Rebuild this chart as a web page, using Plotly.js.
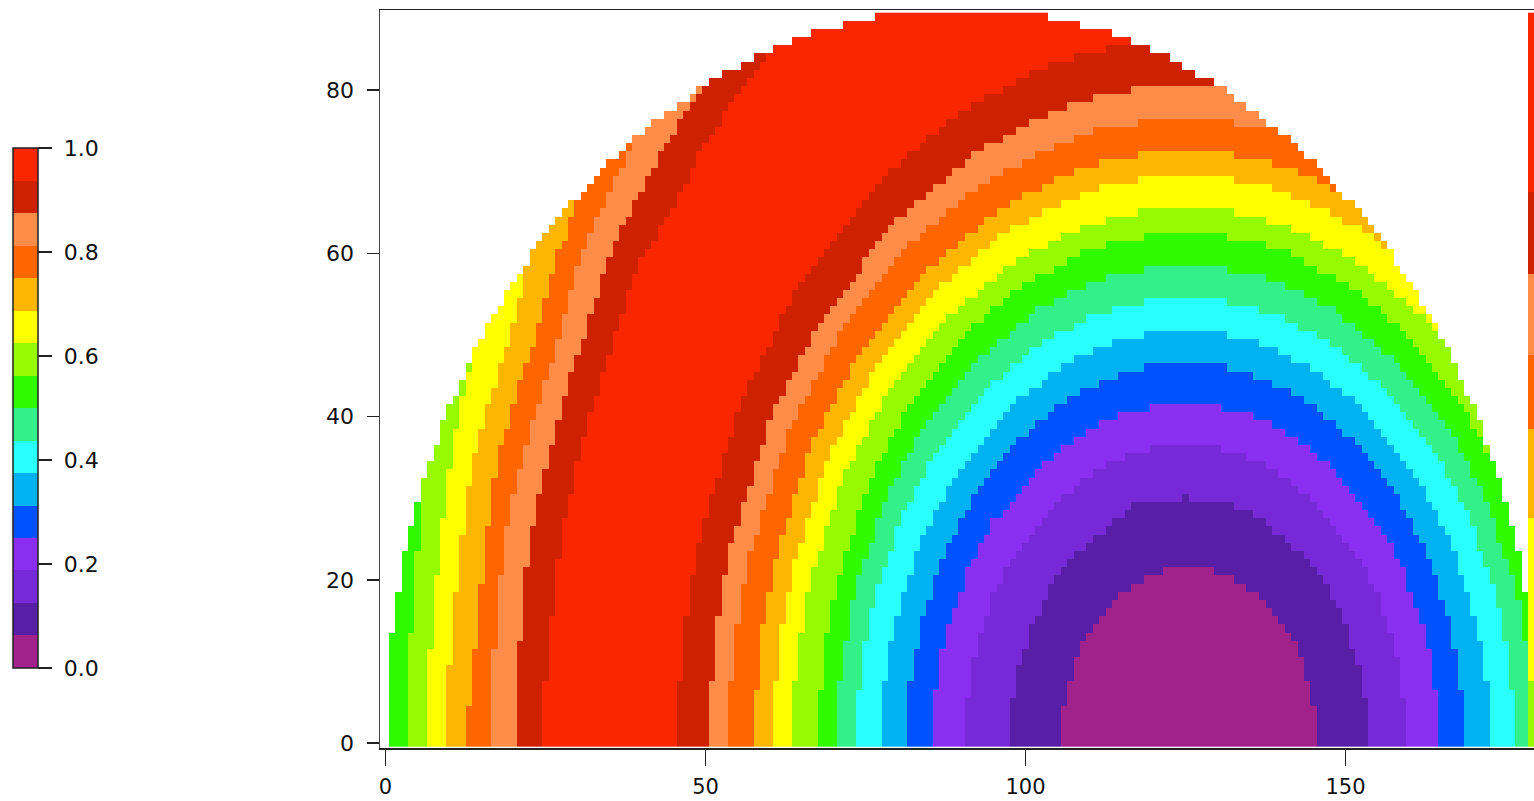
<!DOCTYPE html>
<html>
<head>
<meta charset="utf-8">
<script src="https://cdn.plot.ly/plotly-3.0.1.min.js"></script>
<style>
html, body { margin:0; padding:0; background:#ffffff; overflow:hidden; }
#chart { width:1534px; height:801px; }
</style>
</head>
<body>
<div id="chart"></div>
<script>
// ---------------- data ----------------
// 16 colour bins, value 0..1 in steps of 1/16
const bandColors = ['#a0228a','#581fa6','#7729d8','#8a2ff0','#0052ff','#00b2f2','#2affff','#33f088',
                    '#30fa00','#96fa00','#ffff00','#ffb600','#ff6600','#ff8c48','#cd2100','#fa2600'];
const colorbarTicks = [0, 0.2, 0.4, 0.6, 0.8, 1.0];
const colorbarTickText = ['0.0', '0.2', '0.4', '0.6', '0.8', '1.0'];
const xTicks = [0, 50, 100, 150];
const yTicks = [0, 20, 40, 60, 80];
const xCount = 180;   // columns 0..179
const yCount = 90;    // rows 0..89

// Outline of the filled (half-disc) area: [x, y]
const domainEdge = [[0.5,-1],[0.5,13.5],[1.5,14],[1.5,18.5],[2.5,19],[2.5,23.5],[3.5,24],[3.5,26.5],[4.5,27],[4.8,29],
  [7.1,35],[9.4,40],[12.1,45],[15.2,50],[18.8,55],[22.9,60],[27.8,65],[33.4,70],[40.3,75],[48.8,80],[53,82],[57.7,84],
  [63.5,86],[66.9,87],[71.1,88],[76.5,89],[76.5,89.6],[103.5,89.6],[103.5,89],[108.9,88],[113.1,87],[116.5,86],
  [122.3,84],[127,82],[131.2,80],[139.7,75],[146.6,70],[152.2,65],[157.1,60],[161.2,55],[164.8,50],[167.9,45],
  [170.6,40],[172.9,35],[175.2,29],[175.5,27],[176.5,26.5],[176.5,24],[177.5,23.5],[177.5,19],[178.5,18.5],
  [178.5,14],[179.5,13.5],[179.5,-1]];

// Boundaries of the nested bands around the minimum (x≈125, y=0); ringK separates bin K-1 (inside) from bin K
const ring1 = [[105.5,0],[105.7,3.2],[106.4,6.5],[108.2,10.8],[110.3,14],[113.5,17.2],[116.8,19.4],[119.9,20.6],[121.5,21.1],[123.5,21.4],[125.5,21.5],[127.5,21.4],[129.5,21.1],[131.1,20.6],[134.2,19.4],[137.5,17.2],[140.7,14],[142.8,10.8],[144.6,6.5],[145.3,3.2],[145.5,0]];
const ring2 = [[97.5,0],[97.8,4.5],[98.8,8.9],[101.3,14.9],[104.2,19.4],[108.7,23.8],[113.3,26.8],[115.5,28],[116.5,29],[116.9,29.5],[124.6,29.5],[125,30.5],[125.4,29.5],[132.1,29.5],[132.5,29],[135.5,28],[137.7,26.8],[142.3,23.8],[146.8,19.4],[149.8,14.9],[152.2,8.9],[153.2,4.5],[153.5,0]];
const ring3 = [[90.5,0],[90.9,5.5],[92.1,11],[95.1,18.3],[98.8,23.7],[104.3,29.2],[110,32.9],[115.3,35],[118.1,35.8],[121.6,36.3],[125,36.5],[128.4,36.3],[131.9,35.8],[134.7,35],[140,32.9],[145.7,29.2],[151.2,23.7],[154.9,18.3],[157.9,11],[159.1,5.5],[159.5,0]];
const ring4 = [[85.5,0],[86,6.2],[87.3,12.5],[90.8,20.8],[95,27],[101.3,33.2],[107.8,37.4],[113.9,39.8],[117.1,40.7],[121.1,41.3],[125,41.5],[128.9,41.3],[132.9,40.7],[136.1,39.8],[142.2,37.4],[148.7,33.2],[155,27],[159.2,20.8],[162.7,12.5],[164,6.2],[164.5,0]];
const ring5 = [[81.5,0],[82,7],[83.5,14],[87.3,23.3],[91.9,30.2],[98.9,37.2],[106,41.9],[112.8,44.6],[116.3,45.6],[120.7,46.3],[125,46.5],[129.3,46.3],[133.7,45.6],[137.2,44.6],[144,41.9],[151.1,37.2],[158.1,30.2],[162.7,23.3],[166.5,14],[168,7],[168.5,0]];
const ring6 = [[77.5,0],[78,7.6],[79.7,15.2],[83.9,25.3],[88.9,32.8],[96.5,40.4],[104.3,45.5],[111.7,48.5],[115.5,49.5],[120.3,50.3],[125,50.5],[129.7,50.3],[134.5,49.5],[138.3,48.5],[145.7,45.5],[153.5,40.4],[161.1,32.8],[166.1,25.3],[170.3,15.2],[172,7.6],[172.5,0]];
const ring7 = [[73.5,0],[74.1,8.2],[75.9,16.4],[80.4,27.3],[85.9,35.4],[94.1,43.6],[102.6,49.1],[110.6,52.3],[114.8,53.4],[119.9,54.2],[125,54.5],[130.1,54.2],[135.3,53.4],[139.6,52.3],[147.4,49.1],[155.9,43.6],[164.1,35.4],[169.6,27.3],[174.1,16.4],[175.9,8.2],[176.5,0]];
const ring8 = [[70.5,0],[71.1,8.8],[73,17.6],[77.8,29.3],[83.6,38],[92.3,46.8],[101.2,52.7],[109.7,56.2],[114.2,57.3],[119.6,58.2],[125,58.5],[130.4,58.2],[135.8,57.3],[140.3,56.2],[148.8,52.7],[157.7,46.8],[166.4,38],[172.2,29.3],[177,17.6],[178.9,8.8],[179.5,0]];
const ring9 = [[67.5,0],[68.2,9.4],[70.2,18.8],[75.2,31.3],[81.3,40.6],[90.5,50],[99.9,56.3],[108.9,60],[113.6,61.3],[119.3,62.2],[125,62.5],[130.7,62.2],[136.4,61.3],[141.1,60],[150.1,56.3],[159.5,50],[168.7,40.6],[174.8,31.3],[179.9,18.8],[181.9,9.4],[182.5,0]];
const ring10 = [[63.5,0],[64.2,9.8],[66.3,19.7],[71.7,32.8],[78.3,42.6],[88.1,52.4],[98.2,59],[107.8,62.9],[112.8,64.2],[118.9,65.2],[125,65.5],[131.1,65.2],[137.2,64.2],[142.2,62.9],[151.8,59],[161.9,52.4],[171.7,42.6],[178.3,32.8],[183.7,19.7],[185.8,9.8],[186.5,0]];
const ring11 = [[60.5,0],[61.2,10.4],[63.5,20.9],[69.1,34.8],[76,45.2],[86.3,55.6],[96.9,62.6],[106.9,66.7],[112.2,68.1],[118.6,69.2],[125,69.5],[131.4,69.2],[137.8,68.1],[143.1,66.7],[153.1,62.6],[163.7,55.6],[174,45.2],[180.9,34.8],[186.5,20.9],[188.8,10.4],[189.5,0]];
const ring12 = [[57.5,0],[58.3,10.9],[60.6,21.8],[66.5,36.3],[73.7,47.1],[84.5,58],[95.6,65.3],[106.1,69.6],[111.6,71.1],[118.3,72.1],[125,72.5],[131.7,72.1],[138.4,71.1],[143.9,69.6],[154.4,65.3],[165.5,58],[176.3,47.1],[183.5,36.3],[189.4,21.8],[191.7,10.9],[192.5,0]];
const ring13 = [[53.5,0],[54.3,11.5],[56.8,23],[63.1,38.3],[70.7,49.7],[82.1,61.2],[93.8,68.9],[105,73.4],[110.8,75],[117.9,76.1],[125,76.5],[132.1,76.1],[139.2,75],[145,73.4],[156.2,68.9],[167.9,61.2],[179.3,49.7],[186.9,38.3],[193.2,23],[195.7,11.5],[196.5,0]];
const ring14 = [[50.5,0],[51.3,12.1],[53.9,24.2],[60.5,40.3],[68.4,52.3],[80.3,64.4],[92.5,72.5],[104.1,77.3],[110.2,78.9],[117.6,80.1],[125,80.5],[132.4,80.1],[139.8,78.9],[145.9,77.3],[157.5,72.5],[169.7,64.4],[181.6,52.3],[189.5,40.3],[196.1,24.2],[198.7,12.1],[199.5,0]];
const ring15 = [[45.5,0],[46.4,12.9],[49.2,25.9],[56.2,43.1],[64.6,56],[77.3,69],[90.4,77.6],[102.7,82.8],[109.2,84.5],[117.1,85.8],[125,86.2],[132.9,85.8],[140.8,84.5],[147.3,82.8],[159.6,77.6],[172.7,69],[185.4,56],[193.8,43.1],[200.8,25.9],[203.6,12.9],[204.5,0]];

// Boundaries on the far (left) side of the red ridge; leftK separates bin K-1 (left) from bin K (right)
const left9  = [[3.5,0],[3.5,8],[4.5,19.5],[5.5,27],[6,33.5]];
const left10 = [[6.5,0],[6.5,6],[7.5,17],[8.5,24.5],[9.5,29.5],[10.6,37.6],[12.4,43.3],[14,49.5]];
const left11 = [[9.5,0],[9.5,4.5],[10.5,13.5],[11.5,22.5],[12.5,28.5],[13.5,34.3],[15.5,40.4],[17.6,45.3],[19.7,50.6],[21.5,56.3],[22,60.5]];
const left12 = [[12.5,0],[12.5,1.5],[13.5,8],[14.5,15],[15.5,23],[16.5,29.5],[17.4,34.3],[19.5,40.4],[21.5,45.3],[23.6,50.4],[25.4,55.5],[26.5,59.5],[28.6,62.9],[29.6,66.5],[31,69]];
const left13 = [[16.5,0],[16.5,6],[17.5,16.5],[18.5,23.5],[19.5,28.5],[20.5,32.6],[22.6,38.4],[24.7,43.7],[26.5,48.2],[28.3,53.5],[30.4,60],[33.5,64.9],[36.4,69.8],[38.5,73.5],[41,76]];
const left14 = [[20.5,0],[20.5,7],[21.5,18],[22.5,24],[23.5,28.5],[25.7,35.5],[27.5,41.4],[29.3,46.5],[31.4,50.6],[33.3,55.5],[35.3,60.4],[38.7,65.7],[42.4,71.4],[45.5,75.5],[48.6,79.2],[52,82]];
const left15 = [[24.5,0],[24.5,3],[25.5,11.5],[26.5,19.5],[27.5,25],[28.5,29],[30.4,36.3],[32.5,41.6],[34.6,46.5],[37.7,54.5],[40.5,60],[44.5,65],[49.4,72.7],[54.3,78.8],[58.5,82.5],[61,85],[66,88]];

// Last column (x = 179): bin by row, starting rows
const edgeColumnStartRow = [0, 8, 28, 39, 48, 58, 68];
const edgeColumnBin      = [9, 10, 11, 12, 13, 14, 15];

// ---------------- build the grid from the outlines ----------------
function insidePoly(px, py, poly) {
  let inside = false;
  for (let a = 0, b = poly.length - 1; a < poly.length; b = a++) {
    const xa = poly[a][0], ya = poly[a][1], xb = poly[b][0], yb = poly[b][1];
    if ((ya > py) !== (yb > py) && px < (xb - xa) * (py - ya) / (yb - ya) + xa) inside = !inside;
  }
  return inside;
}
const ringArcs = [ring1, ring2, ring3, ring4, ring5, ring6, ring7, ring8, ring9, ring10, ring11, ring12, ring13, ring14, ring15];
const leftCurves = [left9, left10, left11, left12, left13, left14, left15];
const ringPolys = ringArcs.map(a => [[a[0][0], -1]].concat(a, [[a[a.length - 1][0], -1]]));
const leftPolys = leftCurves.map(c => [[-20, -1], [c[0][0], -1]].concat(c, [[-20, 120]]));

const xVals = [], yVals = [];
for (let i = 0; i < xCount; i++) xVals.push(i);
for (let j = 0; j < yCount; j++) yVals.push(j);

const z = [];
for (let j = 0; j < yCount; j++) {
  const row = [];
  for (let i = 0; i < xCount; i++) {
    let bin;
    if (i === xCount - 1) {
      bin = edgeColumnBin[0];
      for (let k = 0; k < edgeColumnStartRow.length; k++) if (j >= edgeColumnStartRow[k]) bin = edgeColumnBin[k];
    } else {
      if (!insidePoly(i, j, domainEdge)) { row.push(null); continue; }
      let count = 0;
      ringPolys.forEach(p => { if (insidePoly(i, j, p)) count++; });
      leftPolys.forEach(p => { if (insidePoly(i, j, p)) count++; });
      bin = 15 - count;
    }
    row.push((bin + 0.5) / 16);
  }
  z.push(row);
}

const colorscale = [];
bandColors.forEach((c, b) => { colorscale.push([b / 16, c]); colorscale.push([(b + 1) / 16, c]); });

const fontFamily = 'DejaVu Sans, sans-serif';
const plotLeft = 380, plotWidth = 1154, plotTop = 10, plotHeight = 738;
const trace = {
  type: 'heatmap', x: xVals, y: yVals, z: z, zmin: 0, zmax: 1, zsmooth: false,
  colorscale: colorscale, hoverinfo: 'skip',
  colorbar: {
    xref: 'paper', x: (13 - plotLeft) / plotWidth, xanchor: 'left', xpad: 0,
    yref: 'paper', y: (plotTop + plotHeight - 408) / plotHeight, yanchor: 'middle', ypad: 0,
    len: 520, lenmode: 'pixels', thickness: 25, thicknessmode: 'pixels',
    outlinewidth: 1.5, outlinecolor: '#222',
    ticks: 'outside', ticklen: 14, tickwidth: 1.5, tickcolor: '#222',
    tickvals: colorbarTicks, ticktext: colorbarTickText.map(t => '\u00a0' + t),
    tickfont: { family: fontFamily, size: 22, color: '#111' }
  }
};

const layout = {
  width: 1534, height: 801,
  margin: { l: plotLeft, r: 0, t: plotTop, b: 801 - plotTop - plotHeight, pad: 0 },
  paper_bgcolor: '#ffffff', plot_bgcolor: '#ffffff',
  font: { family: fontFamily, size: 22, color: '#111' },
  showlegend: false,
  xaxis: {
    range: [-0.86, 179.45], tickvals: xTicks, ticks: 'outside', ticklen: 16, tickwidth: 1.5, tickcolor: '#222',
    showline: true, linecolor: '#222', linewidth: 1.5, mirror: true, showgrid: false, zeroline: false,
    ticklabelstandoff: 3,
    tickfont: { family: fontFamily, size: 21, color: '#111' }
  },
  yaxis: {
    range: [-0.61, 89.83], tickvals: yTicks, ticks: 'outside', ticklen: 12, tickwidth: 1.5, tickcolor: '#222',
    showline: true, linecolor: '#444', linewidth: 1.5, mirror: false, showgrid: false, zeroline: false,
    ticklabelstandoff: 8,
    tickfont: { family: fontFamily, size: 22, color: '#111' }
  }
};

Plotly.newPlot('chart', [trace], layout, { displayModeBar: false, staticPlot: true });
</script>
</body>
</html>
